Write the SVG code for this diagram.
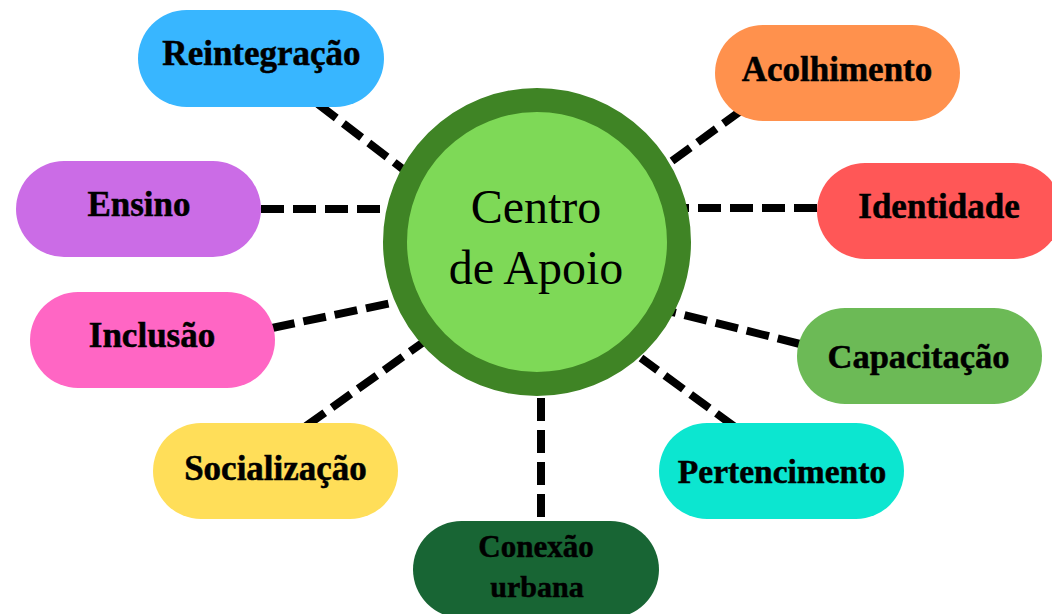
<svg xmlns="http://www.w3.org/2000/svg" width="1052" height="614" viewBox="0 0 1052 614">
<style>
.c{stroke:#000;stroke-width:8;stroke-dasharray:23 9;fill:none}
.lbl{font-family:"Liberation Serif","Times New Roman",serif;font-weight:bold;font-size:35px;fill:#000;text-anchor:middle;stroke:#000;stroke-width:0.5}
.ctr{font-family:"Liberation Serif","Times New Roman",serif;font-size:48px;fill:#000;text-anchor:middle}
</style>
<rect width="1052" height="614" fill="#fff"/>
<g id="connectors">
<line class="c" x1="318" y1="104" x2="404" y2="170"/>
<line class="c" x1="742" y1="110" x2="672" y2="161"/>
<line class="c" x1="261" y1="209" x2="386" y2="209"/>
<line class="c" x1="817" y1="208" x2="686" y2="208"/>
<line class="c" x1="272" y1="328" x2="396" y2="302"/>
<line class="c" x1="800" y1="344" x2="668" y2="311"/>
<line class="c" x1="306" y1="426" x2="425" y2="341"/>
<line class="c" x1="735" y1="427" x2="641" y2="358"/>
<line class="c" x1="541" y1="398" x2="541" y2="523"/>
</g>
<g id="center">
<circle cx="537" cy="242" r="142" fill="#7ED957" stroke="#3F8425" stroke-width="24"/>
<text class="ctr" x="536" y="223">Centro</text>
<text class="ctr" x="536" y="284">de Apoio</text>
</g>
<g id="reintegracao">
<rect x="138" y="10" width="246" height="97" rx="48.5" fill="#38B6FF"/>
<text class="lbl" x="261.5" y="65">Reintegração</text>
</g>
<g id="acolhimento">
<rect x="715" y="25" width="245" height="96" rx="48" fill="#FF914D"/>
<text class="lbl" x="837" y="81">Acolhimento</text>
</g>
<g id="ensino">
<rect x="16" y="161" width="245" height="96" rx="48" fill="#CB6CE6"/>
<text class="lbl" x="139" y="216">Ensino</text>
</g>
<g id="identidade">
<rect x="817" y="163" width="245" height="96" rx="48" fill="#FF5757"/>
<text class="lbl" x="939" y="218">Identidade</text>
</g>
<g id="inclusao">
<rect x="30" y="292" width="245" height="96" rx="48" fill="#FF66C4"/>
<text class="lbl" x="152" y="347">Inclusão</text>
</g>
<g id="capacitacao">
<rect x="797" y="308" width="245" height="96" rx="48" fill="#6CBA56"/>
<text class="lbl" x="918.5" y="368" style="font-size:34.5px">Capacitação</text>
</g>
<g id="socializacao">
<rect x="153" y="423" width="245" height="96" rx="48" fill="#FFDE59"/>
<text class="lbl" x="275.5" y="480">Socialização</text>
</g>
<g id="pertencimento">
<rect x="659" y="423" width="245" height="96" rx="48" fill="#0CE6D0"/>
<text class="lbl" x="782" y="483" style="font-size:33.5px">Pertencimento</text>
</g>
<g id="conexao">
<rect x="413" y="521" width="246" height="97" rx="48.5" fill="#186534"/>
<text class="lbl" x="536" y="557" style="font-size:31px">Conexão</text>
<text class="lbl" x="537" y="597" style="font-size:30px">urbana</text>
</g>
</svg>
